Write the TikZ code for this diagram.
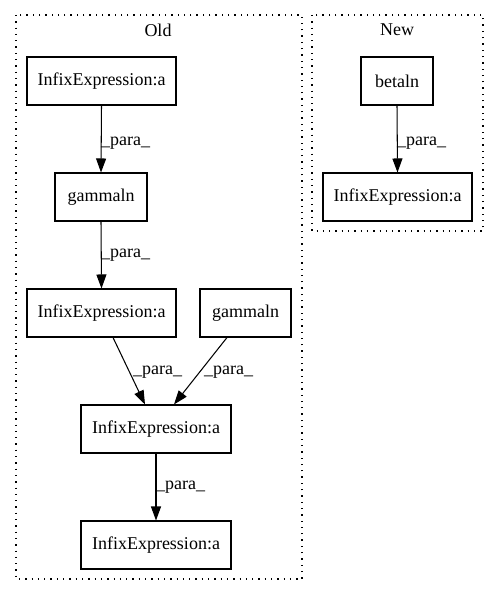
\documentclass[tikz,border=0pt]{standalone}
\usepackage{fontspec}
\setmainfont{Liberation Serif}
\usetikzlibrary{arrows.meta}
\begin{document}
\begin{tikzpicture}[x=1pt,y=-1pt,
  box/.style={draw,line width=1.05pt,minimum height=48pt,inner sep=0pt,font=\fontsize{18pt}{20pt}\selectfont},
  lbl/.style={anchor=west,inner sep=0pt,font=\fontsize{18pt}{20pt}\selectfont},
  edge/.style={line width=1.05pt,-{Triangle[length=14pt,width=10pt]}},
  cluster/.style={line width=1.1pt,dash pattern=on 1.3pt off 5pt}]
\useasboundingbox (0,0) rectangle (499,596);
% clusters
\draw[cluster] (16,15) rectangle (302,579);
\draw[cluster] (312,15) rectangle (483,231);
\node[lbl,anchor=center] (oldlbl) at (158,30) {Old};
\node[lbl,anchor=center] (newlbl) at (397,30) {New};
% nodes
\node[box,minimum width=149pt] (n1) at (101.5,81) {InfixExpression:a};
\node[box,minimum width=92pt] (n2) at (101,197) {gammaln};
\node[box,minimum width=149pt] (n3) at (101.5,313) {InfixExpression:a};
\node[box,minimum width=91pt] (n4) at (245.5,313) {gammaln};
\node[box,minimum width=150pt] (n5) at (156,429) {InfixExpression:a};
\node[box,minimum width=150pt] (n6) at (156,545) {InfixExpression:a};
\node[box,minimum width=72pt] (b1) at (397,81) {betaln};
\node[box,minimum width=149pt] (b2) at (397.5,197) {InfixExpression:a};
% edges
\draw[edge] (n1.south) -- (n2.north);
\node[lbl] (l1) at (101,143) {\_para\_};
\draw[edge] (n2.south) -- (n3.north);
\node[lbl] (l2) at (101,255) {\_para\_};
\draw[edge] ([xshift=11.5pt]n3.south) -- ([xshift=-11pt]n5.north);
\node[lbl] (l3) at (133,372) {\_para\_};
\draw[edge] ([xshift=-18.5pt]n4.south) -- ([xshift=18pt]n5.north);
\node[lbl] (l4) at (204,372) {\_para\_};
\draw[edge] (n5.south) -- (n6.north);
\node[lbl] (l5) at (156,487) {\_para\_};
\draw[edge] (b1.south) -- (b2.north);
\node[lbl] (l6) at (397,143) {\_para\_};
\end{tikzpicture}
\end{document}
